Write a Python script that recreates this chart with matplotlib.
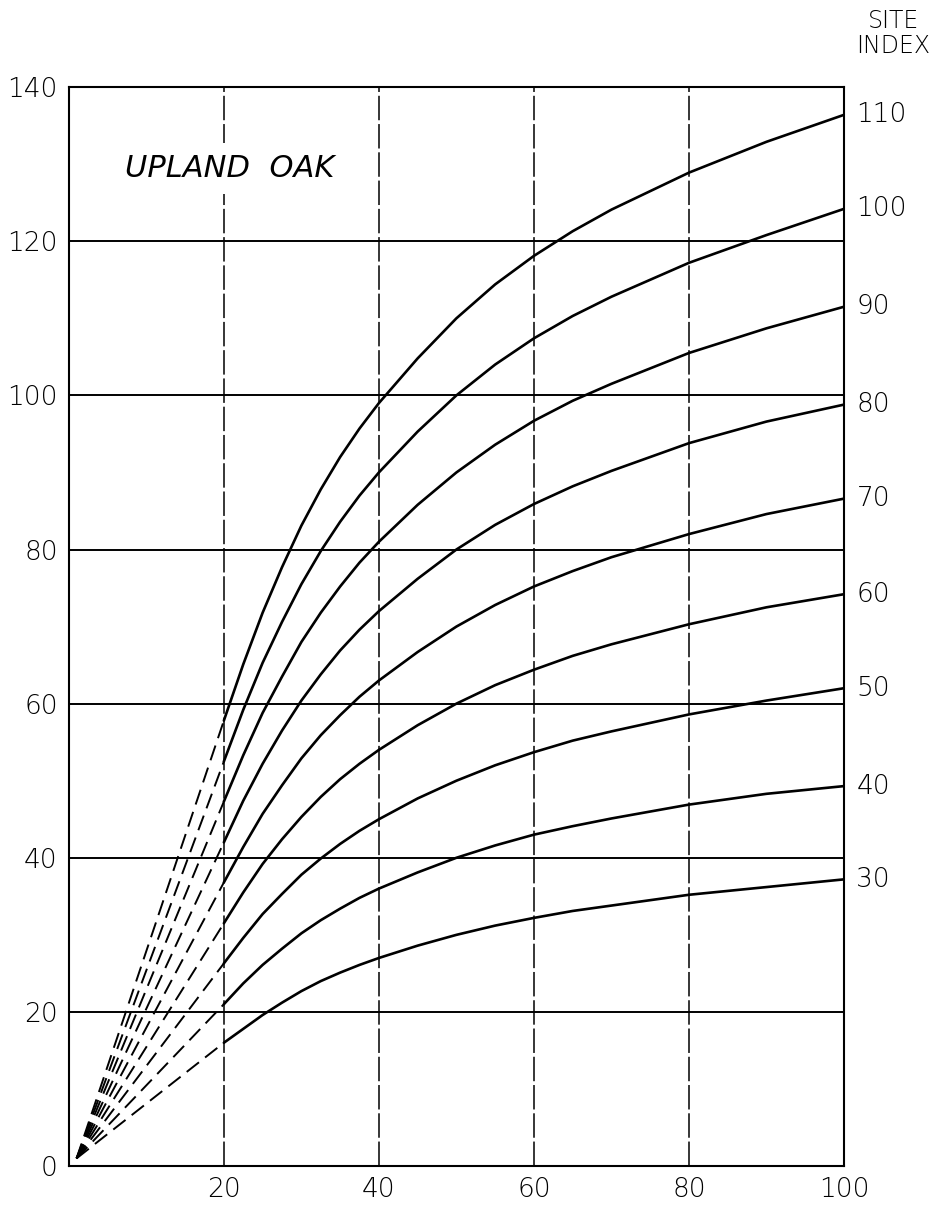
import matplotlib
matplotlib.use("Agg")
import matplotlib.pyplot as plt
import matplotlib.transforms as mtransforms

ages = [20, 22.5, 25, 27.5, 30, 32.5, 35, 37.5, 40, 45, 50, 55, 60, 65, 70, 80, 90, 100]

# total height for each site index curve
site_indexes = [110, 100, 90, 80, 70, 60, 50, 40, 30]
h110 = [57.8, 65.1, 71.8, 77.7, 83.1, 87.8, 92.0, 95.7, 99.0, 104.8, 110.0,
        114.4, 118.1, 121.3, 124.1, 128.9, 132.9, 136.4]
h100 = [52.5, 59.2, 65.3, 70.6, 75.5, 79.8, 83.6, 87.0, 90.0, 95.3, 100.0,
        104.0, 107.4, 110.3, 112.8, 117.2, 120.8, 124.2]
h90 = [47.3, 53.3, 58.8, 63.5, 68.0, 71.8, 75.2, 78.3, 81.0, 85.8, 90.0,
       93.6, 96.7, 99.3, 101.5, 105.5, 108.7, 111.5]
h80 = [42.0, 47.4, 52.2, 56.5, 60.4, 63.8, 66.9, 69.6, 72.0, 76.2, 80.0,
       83.2, 85.9, 88.2, 90.2, 93.8, 96.6, 98.8]
h70 = [36.8, 41.4, 45.7, 49.4, 52.9, 55.9, 58.5, 60.9, 63.0, 66.7, 70.0,
       72.8, 75.2, 77.2, 79.0, 82.0, 84.6, 86.6]
h60 = [31.5, 35.5, 39.2, 42.4, 45.3, 47.9, 50.2, 52.2, 54.0, 57.2, 60.0,
       62.4, 64.4, 66.2, 67.7, 70.3, 72.5, 74.2]
h50 = [26.3, 29.6, 32.7, 35.3, 37.8, 39.9, 41.8, 43.5, 45.0, 47.7, 50.0,
       52.0, 53.7, 55.2, 56.4, 58.6, 60.4, 62.0]
h40 = [21.0, 23.7, 26.1, 28.2, 30.2, 31.9, 33.4, 34.8, 36.0, 38.1, 40.0,
       41.6, 43.0, 44.1, 45.1, 46.9, 48.3, 49.3]
h30 = [16.0, 17.8, 19.6, 21.2, 22.7, 24.0, 25.1, 26.1, 27.0, 28.6, 30.0,
       31.2, 32.2, 33.1, 33.8, 35.2, 36.2, 37.2]
heights = [h110, h100, h90, h80, h70, h60, h50, h40, h30]

# dashed extrapolation goes back to (about) the origin
origin_age = 1.0
origin_height = 1.0

x_ticks = [0, 20, 40, 60, 80, 100]
y_ticks = [0, 20, 40, 60, 80, 100, 120, 140]

FONT = ["DejaVu Sans"]

fig = plt.figure(figsize=(9.43, 12.13), dpi=100)
ax = fig.add_axes([0.073, 0.0387, 0.822, 0.8895])

ax.set_xlim(0, 100)
ax.set_ylim(0, 140)

# grid: horizontal solid, vertical broken
for y in y_ticks[1:-1]:
    ax.axhline(y, color="black", linewidth=1.4, zorder=1)
for x in x_ticks[1:-1]:
    ax.axvline(x, color="black", linewidth=1.1, linestyle=(0, (16, 2.5)), zorder=1)

# curves: solid from age 20, dashed back toward the origin
for si, h in zip(site_indexes, heights):
    ax.plot(ages, h, color="black", linewidth=1.9, zorder=3,
            solid_capstyle="round", solid_joinstyle="round")
    ax.plot([origin_age, ages[0]], [origin_height, h[0]], color="black",
            linewidth=1.4, linestyle=(0, (8, 4)), zorder=3)

# site index labels at the right end of each curve
trans = mtransforms.blended_transform_factory(ax.transAxes, ax.transData)
for si, h in zip(site_indexes, heights):
    ax.text(1.016, h[-1], str(si), transform=trans, ha="left", va="center",
            fontsize=19, family=FONT, fontweight="light")

fig.text(0.947, 0.983, "SITE", ha="center", va="center", fontsize=17,
         family=FONT, fontweight="light")
fig.text(0.947, 0.962, "INDEX", ha="center", va="center", fontsize=17,
         family=FONT, fontweight="light")

ax.text(20.8, 129.5, "UPLAND  OAK", ha="center", va="center", fontsize=22,
        style="italic", family=FONT, fontweight="light", zorder=4,
        bbox=dict(facecolor="white", edgecolor="none", pad=8))

ax.set_xticks(x_ticks[1:])
ax.set_yticks(y_ticks)
ax.tick_params(length=0, labelsize=19, pad=8)
for lab in ax.get_xticklabels() + ax.get_yticklabels():
    lab.set_family(FONT)
    lab.set_fontweight("light")

for sp in ax.spines.values():
    sp.set_linewidth(1.5)
    sp.set_color("black")

fig.savefig("out.png", dpi=100)
